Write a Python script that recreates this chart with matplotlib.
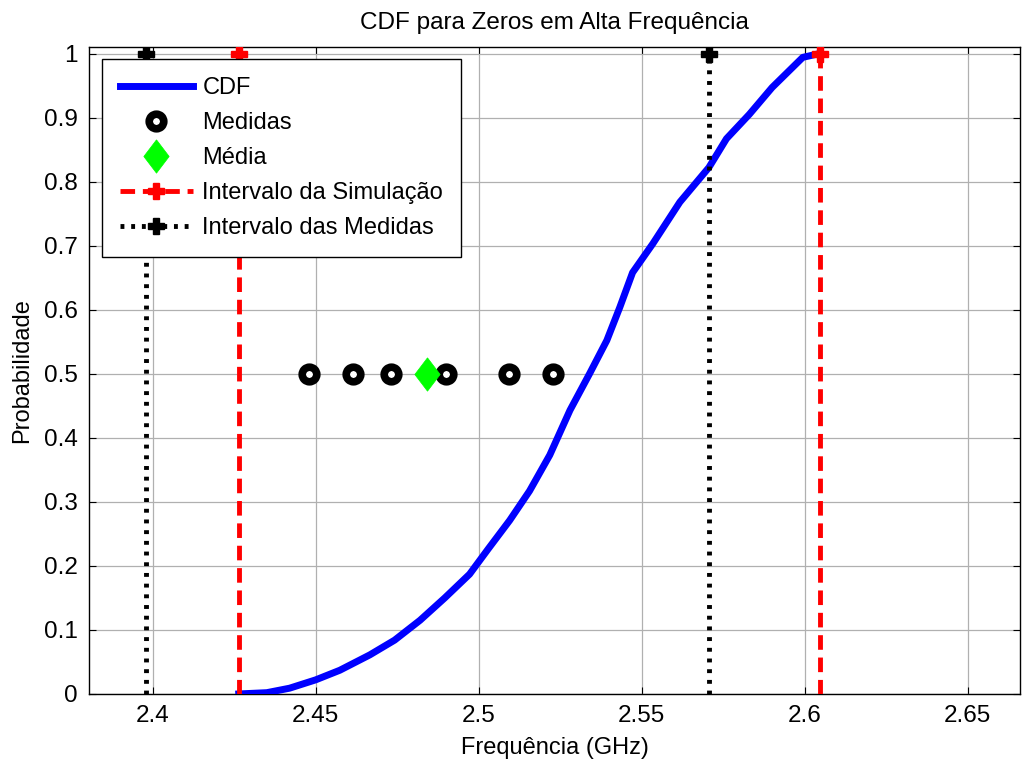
import matplotlib.pyplot as plt
import numpy as np

plt.rcParams['font.family'] = ['Liberation Sans', 'DejaVu Sans']

# CDF curve
cdf_x = [2.4264, 2.435, 2.442, 2.450, 2.4574, 2.4666, 2.4742, 2.482, 2.4896,
         2.4972, 2.5030, 2.5095, 2.5156, 2.5218, 2.5280, 2.5340, 2.5393,
         2.5433, 2.5472, 2.5534, 2.5617, 2.5706, 2.5760, 2.5830, 2.5900,
         2.5994, 2.6046]
cdf_y = [0.000, 0.002, 0.009, 0.022, 0.037, 0.061, 0.084, 0.115, 0.150,
         0.187, 0.227, 0.271, 0.317, 0.373, 0.443, 0.500, 0.552,
         0.604, 0.658, 0.703, 0.768, 0.822, 0.867, 0.905, 0.947,
         0.994, 1.000]

medidas = [2.4479, 2.4613, 2.4730, 2.4899, 2.5092, 2.5227]
media = 2.4840
sim_interval = [2.4264, 2.6046]
med_interval = [2.3981, 2.5706]

xticks = [2.4, 2.45, 2.5, 2.55, 2.6, 2.65]
xtick_labels = ['2.4', '2.45', '2.5', '2.55', '2.6', '2.65']
yticks = [0, 0.1, 0.2, 0.3, 0.4, 0.5, 0.6, 0.7, 0.8, 0.9, 1.0]
ytick_labels = ['0', '0.1', '0.2', '0.3', '0.4', '0.5', '0.6', '0.7', '0.8', '0.9', '1']


def main():
    fig = plt.figure(figsize=(10.24, 7.63), dpi=100)
    ax = fig.add_axes([0.087, 0.0905, 0.909, 0.848])

    ax.plot(cdf_x, cdf_y, color='#0000ff', lw=5, label='CDF', zorder=3)
    ax.plot(medidas, [0.5] * len(medidas), ls='none', marker='o', ms=10.5,
            mew=5.5, mec='black', mfc='white', label='Medidas', zorder=4)
    diamond = [(0, 1), (0.76, 0), (0, -1), (-0.76, 0), (0, 1)]
    ax.plot([media], [0.5], ls='none', marker=diamond, ms=24, mew=0.5,
            mec='#00ff00', mfc='#00ff00', label='Média', zorder=5)

    for i, xv in enumerate(sim_interval):
        ax.plot([xv, xv], [0, 1], color='red', ls=(0, (3, 1.6)), lw=3.5,
                marker='P', ms=12, markevery=[1],
                label='Intervalo da Simulação' if i == 0 else None, zorder=3)
    for i, xv in enumerate(med_interval):
        ax.plot([xv, xv], [0, 1], color='black', ls=(0, (0.8, 1.4)), lw=3.5,
                marker='P', ms=12, markevery=[1],
                label='Intervalo das Medidas' if i == 0 else None, zorder=3)

    ax.set_xlim(2.3805, 2.666)
    ax.set_ylim(0, 1.0103)
    ax.set_xticks(xticks)
    ax.set_xticklabels(xtick_labels)
    ax.set_yticks(yticks)
    ax.set_yticklabels(ytick_labels)
    ax.tick_params(direction='in', top=True, right=True, labelsize=17.5,
                   length=5, width=0.8, pad=8)
    ax.grid(True, color='#b0b0b0', lw=0.9)
    ax.set_axisbelow(True)
    for s in ax.spines.values():
        s.set_linewidth(1.0)

    ax.set_title('CDF para Zeros em Alta Frequência', fontsize=17.5, pad=13)
    ax.set_xlabel('Frequência (GHz)', fontsize=17, labelpad=7)
    ax.set_ylabel('Probabilidade', fontsize=17, labelpad=8)

    leg = ax.legend(loc='upper left', bbox_to_anchor=(0.014, 0.981),
                    fontsize=17, handlelength=3.1, handletextpad=0.4,
                    labelspacing=0.55, borderpad=0.75, fancybox=False,
                    framealpha=1, edgecolor='black', borderaxespad=0)
    leg.get_frame().set_linewidth(1.0)

    plt.savefig('out.png', dpi=100)


if __name__ == '__main__':
    main()
